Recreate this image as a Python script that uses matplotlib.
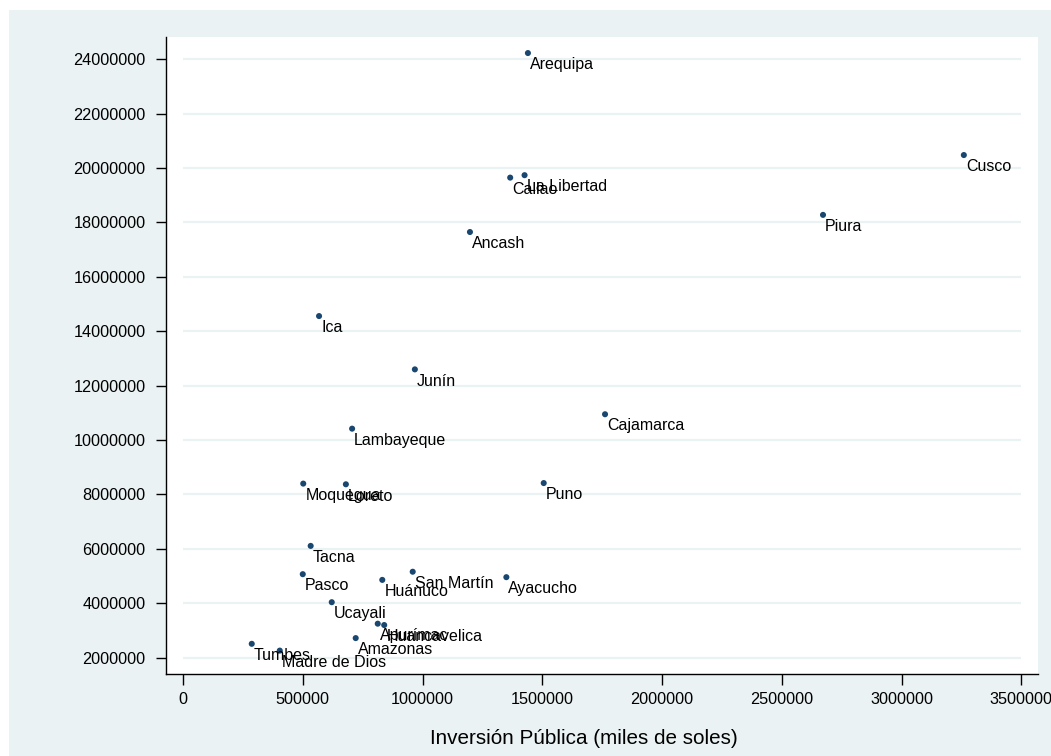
import matplotlib
matplotlib.use("Agg")
import matplotlib.pyplot as plt
from matplotlib.patches import Rectangle

# datos
regiones = ["Arequipa", "Cusco", "La Libertad", "Callao", "Piura", "Ancash",
            "Ica", "Junín", "Cajamarca", "Lambayeque", "Moquegua", "Loreto",
            "Puno", "Tacna", "Pasco", "San Martín", "Huánuco", "Ayacucho",
            "Ucayali", "Apurímac", "Huancavelica", "Amazonas", "Tumbes",
            "Madre de Dios"]
inversion = [1440000, 3260000, 1426000, 1366000, 2672000, 1198000,
             568000, 968000, 1762000, 706000, 502000, 680000,
             1506000, 533000, 500000, 959000, 832000, 1350000,
             621000, 813000, 840000, 721000, 287000, 404000]
pbi = [24230000, 20480000, 19740000, 19650000, 18280000, 17650000,
       14560000, 12600000, 10950000, 10420000, 8400000, 8375000,
       8420000, 6110000, 5070000, 5160000, 4860000, 4960000,
       4040000, 3250000, 3200000, 2720000, 2510000, 2260000]

xticks = [0, 500000, 1000000, 1500000, 2000000, 2500000, 3000000, 3500000]
yticks = [2000000, 4000000, 6000000, 8000000, 10000000, 12000000,
          14000000, 16000000, 18000000, 20000000, 22000000, 24000000]
xlabel = "Inversión Pública (miles de soles)"

BG = "#EAF2F3"
NAVY = "#1A476F"
W, H = 1051, 756

plt.rcParams["font.family"] = ["Liberation Sans", "DejaVu Sans"]

fig = plt.figure(figsize=(W / 100, H / 100), dpi=100)
fig.patch.set_facecolor("white")
# fondo gris del grafico (con margen blanco arriba e izquierda)
fondo = Rectangle((9 / W, 0), 1 - 9 / W, (H - 10) / H,
                  transform=fig.transFigure, facecolor=BG,
                  edgecolor="none", zorder=-10)
fig.add_artist(fondo)

ax = fig.add_axes([166 / W, 82 / H, 872 / W, 637 / H])
ax.set_facecolor("white")

ax.hlines(yticks, xticks[0], xticks[-1], color=BG, lw=1.6, zorder=1)
ax.scatter(inversion, pbi, s=19, color=NAVY, edgecolors="none", zorder=3)
for name, x, y in zip(regiones, inversion, pbi):
    ax.annotate(name, (x, y), xytext=(1.5, -11.7), textcoords="offset points",
                ha="left", va="baseline", fontsize=11.5, color="black",
                zorder=4)

ax.set_xlim(-71000, 3569600)
ax.set_ylim(1400000, 24820000)
ax.set_xticks(xticks)
ax.set_xticklabels([str(v) for v in xticks])
ax.set_yticks(yticks)
ax.set_yticklabels([str(v) for v in yticks])

for s in ["top", "right"]:
    ax.spines[s].set_visible(False)
for s in ["left", "bottom"]:
    ax.spines[s].set_linewidth(1.0)
    ax.spines[s].set_color("black")

ax.tick_params(axis="y", direction="out", length=7.2, width=1.0, pad=7.5,
               labelsize=11.7)
ax.tick_params(axis="x", direction="out", length=7.9, width=1.0, pad=5,
               labelsize=11.7)

fig.text(584 / W, (H - 744) / H, xlabel, ha="center", va="baseline",
         fontsize=14.9)

fig.savefig("out.png", dpi=100, facecolor=fig.get_facecolor())
